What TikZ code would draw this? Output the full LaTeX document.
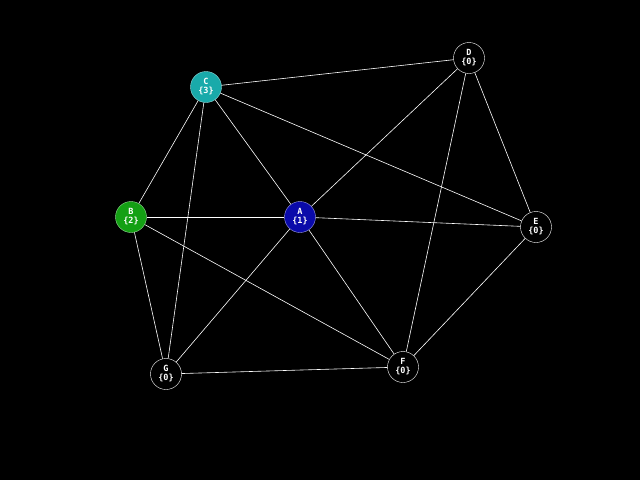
\documentclass[tikz,border=0pt]{standalone}
\usepackage{fontspec}
\setmonofont{DejaVu Sans Mono}
\begin{document}
\begin{tikzpicture}[x=1pt,y=-1pt,
  vtx/.style={circle,minimum size=31pt,inner sep=0pt,font=\ttfamily\bfseries\fontsize{8.5}{9}\selectfont,text=white,align=center},
  edge/.style={white,line width=0.6pt}]
\fill[black] (0,0) rectangle (640,480);
\useasboundingbox (0,0) rectangle (640,480);
\node[vtx,fill=black,draw=white] (D) at (469,58) {D\\\{0\}};
\node[vtx,fill=black,draw=white] (E) at (536,227) {E\\\{0\}};
\node[vtx,fill=black,draw=white] (F) at (403,367) {F\\\{0\}};
\node[vtx,fill=black,draw=white] (G) at (166,374) {G\\\{0\}};
\node[vtx,fill={rgb,255:red,25;green,170;blue,170},draw={rgb,255:red,150;green,220;blue,220}] (C) at (206,87) {C\\\{3\}};
\node[vtx,fill={rgb,255:red,20;green,160;blue,20},draw={rgb,255:red,150;green,220;blue,150}] (B) at (131,217) {B\\\{2\}};
\node[vtx,fill={rgb,255:red,10;green,10;blue,170},draw={rgb,255:red,160;green,160;blue,230}] (A) at (300,217) {A\\\{1\}};
\foreach \a/\b in {C/D,C/B,C/A,C/E,C/G,B/A,B/G,B/F,A/D,A/E,A/F,A/G,D/E,D/F,E/F,G/F}
  \draw[edge] (\a) -- (\b);
\end{tikzpicture}
\end{document}
